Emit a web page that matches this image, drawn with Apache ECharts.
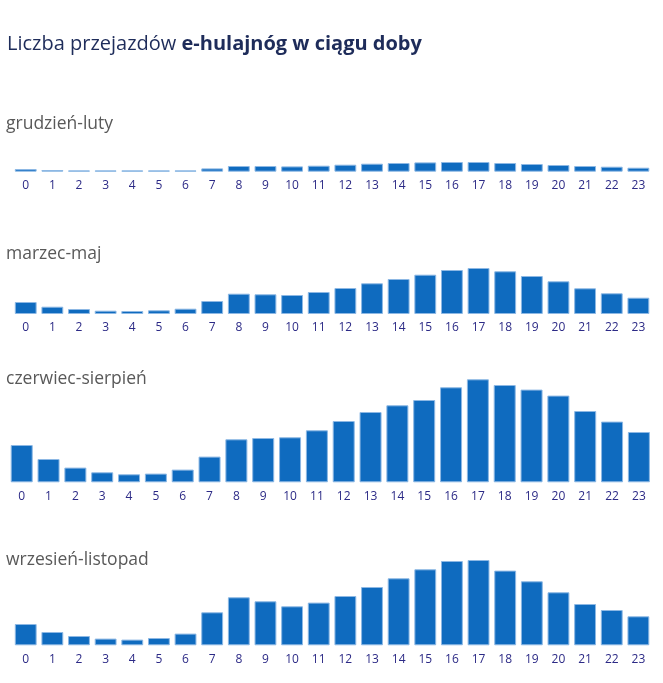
<!DOCTYPE html>
<html>
<head>
<meta charset="utf-8">
<script src="https://cdn.jsdelivr.net/npm/echarts@6/dist/echarts.min.js"></script>
<style>
html,body{margin:0;padding:0;background:#fff;}
#chart{width:663px;height:683px;}
</style>
</head>
<body>
<div id="chart"></div>
<script>
const hours = ['0','1','2','3','4','5','6','7','8','9','10','11','12','13','14','15','16','17','18','19','20','21','22','23'];
const seasonNames = ['grudzień-luty','marzec-maj','czerwiec-sierpień','wrzesień-listopad'];
const winter = [2.7,1.7,1.3,1.3,1.3,1.3,1.3,3.3,5.7,5.7,5.3,6,7,8,8.7,9.3,9.7,9.7,8.7,7.7,6.7,5.7,5,4];
const spring = [12,7.3,5,3.3,3,3.7,5.3,13,20.3,19.7,19,22,26,30.7,35,39.3,44,46,42.7,38,32.7,25.7,20.7,16.3];
const summer = [37.3,23.3,14.7,10,8,8.7,12.7,25.7,43,44.3,45,52,61.3,70.3,77,82.3,95,103,97.3,92.7,86.7,71.3,60.7,50.3];
const autumn = [21.3,13.3,9.3,6.7,5.7,7.3,11.7,33,48,44,39,42.7,49.3,58.3,67,76,84.3,85.3,74.7,64,53,41.3,35.3,29];
const seriesData = [winter, spring, summer, autumn];

const H = 110;
const baselines = [171.7, 314, 482.3, 645.3];
const lefts = [12.4, 12.4, 8.3, 12.4];
const widths = [639.3, 639.3, 644, 639.3];
const subTops = [110, 240, 365, 546];

const chart = echarts.init(document.getElementById('chart'), null, {renderer:'canvas'});
const font = '"Open Sans", "Noto Sans", sans-serif';

const titles = [{
  text: '{n|Liczba przejazdów }{b|e-hulajnóg w ciągu doby}',
  left: 2, top: 29,
  textStyle: {
    rich: {
      n: {fontSize: 20, fontFamily: font, color: '#1e2c5a', fontWeight: 'normal'},
      b: {fontSize: 20, fontFamily: font, color: '#1e2c5a', fontWeight: 'bold'}
    }
  }
}];
seasonNames.forEach((s, i) => {
  titles.push({
    text: s, left: 1, top: subTops[i],
    textStyle: {fontSize: 17.5, fontFamily: font, color: '#595959', fontWeight: 'normal'}
  });
});

const grids = [], xAxes = [], yAxes = [], series = [];
seriesData.forEach((d, i) => {
  grids.push({left: lefts[i], width: widths[i], top: baselines[i] - H, height: H});
  xAxes.push({
    type: 'category', gridIndex: i, data: hours,
    axisLine: {show: false}, axisTick: {show: false},
    axisLabel: {color: '#2c2a86', fontSize: 12, fontFamily: font, margin: 8, interval: 0}
  });
  yAxes.push({type: 'value', gridIndex: i, min: 0, max: H, show: false, splitLine: {show: false}});
  series.push({
    type: 'bar', xAxisIndex: i, yAxisIndex: i, data: d,
    barCategoryGap: '18%',
    itemStyle: {color: '#0f6bbf', borderColor: '#8db8e4', borderWidth: 1},
    silent: true, animation: false
  });
});

chart.setOption({
  animation: false,
  title: titles,
  grid: grids,
  xAxis: xAxes,
  yAxis: yAxes,
  series: series
});
</script>
</body>
</html>
